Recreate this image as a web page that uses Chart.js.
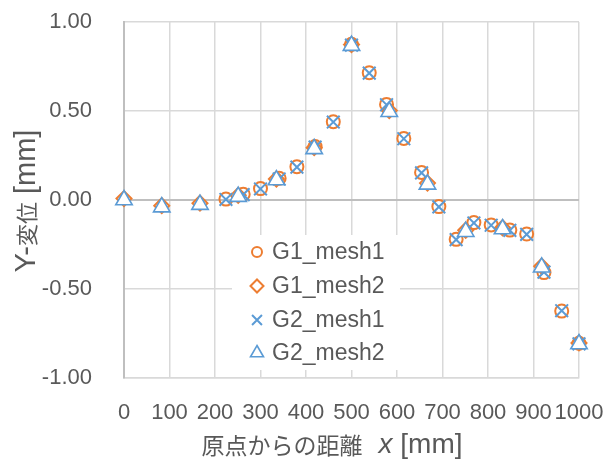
<!DOCTYPE html>
<html>
<head>
<meta charset="utf-8">
<script src="https://cdn.jsdelivr.net/npm/chart.js@4/dist/chart.umd.min.js"></script>
<style>
    html, body { margin: 0; padding: 0; background: #fff; }
    #chart { display: block; }
</style>
</head>
<body>
<canvas id="chart" width="610" height="471"></canvas>
<script>
const mesh1X = [224, 262, 300, 341, 380, 420, 460, 500, 539, 577, 615, 654, 692, 730, 769, 807, 848, 885, 923, 962, 1000];
const g1Mesh1Y = [0.005, 0.032, 0.064, 0.122, 0.187, 0.300, 0.440, 0.875, 0.715, 0.537, 0.346, 0.155, -0.037, -0.221, -0.127, -0.140, -0.169, -0.191, -0.408, -0.624, -0.805];
const g2Mesh1Y = [0.003, 0.030, 0.062, 0.118, 0.185, 0.297, 0.438, 0.870, 0.713, 0.535, 0.344, 0.152, -0.039, -0.223, -0.129, -0.142, -0.171, -0.193, -0.405, -0.622, -0.808];

const mesh2X = [0, 83, 167, 251, 335, 418, 500, 583, 667, 751, 832, 918, 1000];
const g1Mesh2Y = [0.008, -0.032, -0.018, 0.026, 0.118, 0.294, 0.873, 0.503, 0.095, -0.170, -0.156, -0.372, -0.803];
const g2Mesh2Y = [0.000, -0.040, -0.026, 0.019, 0.112, 0.287, 0.867, 0.496, 0.088, -0.178, -0.163, -0.378, -0.809];

const yTicks = [-1, -0.5, 0, 0.5, 1];
const seriesNames = ["G1_mesh1", "G1_mesh2", "G2_mesh1", "G2_mesh2"];

const ORANGE = "#ED7D31";
const BLUE = "#5B9BD5";
const TEXT = "#595959";
const GRID = "#D9D9D9";
const AXIS = "#BFBFBF";
const LATIN = "'Liberation Sans', Arial, sans-serif";
const CJK = "'Noto Sans CJK JP', sans-serif";

function toPoints(xs, ys) {
    return xs.map((x, i) => ({ x: x, y: ys[i] }));
}

const styles = [
    { pointStyle: "circle", radius: 6.5, color: ORANGE, fill: "rgba(0,0,0,0)", width: 2, order: 4, legendRadius: 5 },
    { pointStyle: "rectRot", radius: 7.5, color: ORANGE, fill: "rgba(0,0,0,0)", width: 2, order: 3, legendRadius: 6.5 },
    { pointStyle: "crossRot", radius: 9, color: BLUE, fill: "rgba(0,0,0,0)", width: 2, order: 2, legendRadius: 7 },
    { pointStyle: "triangle", radius: 9.5, color: BLUE, fill: "#ffffff", width: 1.6, order: 1, legendRadius: 7.5 }
];

const seriesData = [
    toPoints(mesh1X, g1Mesh1Y),
    toPoints(mesh2X, g1Mesh2Y),
    toPoints(mesh1X, g2Mesh1Y),
    toPoints(mesh2X, g2Mesh2Y)
];

function drawPieces(ctx, pieces, cx, cy) {
    let total = 0;
    pieces.forEach(p => {
        ctx.font = p.font;
        p.w = ctx.measureText(p.text).width;
        total += p.w + (p.gap || 0);
    });
    let x = cx - total / 2;
    pieces.forEach(p => {
        ctx.font = p.font;
        ctx.fillText(p.text, x, cy);
        x += p.w + (p.gap || 0);
    });
}

// legend box and axis titles drawn by hand, the legend sits inside the plot
const overlayPlugin = {
    id: "overlay",
    afterDatasetsDraw(chart) {
        const ctx = chart.ctx;
        ctx.save();
        ctx.fillStyle = "#ffffff";
        ctx.fillRect(232, 235, 168, 135);
        const rows = [252, 286, 320, 353];
        chart.data.datasets.forEach((ds, i) => {
            const st = styles[i];
            ctx.strokeStyle = st.color;
            ctx.fillStyle = st.fill;
            ctx.lineWidth = st.width;
            Chart.helpers.drawPoint(ctx, { pointStyle: st.pointStyle, radius: st.legendRadius, rotation: 0, borderWidth: st.width }, 257, rows[i]);
            ctx.fillStyle = TEXT;
            ctx.font = "23px " + LATIN;
            ctx.textAlign = "left";
            ctx.textBaseline = "middle";
            ctx.fillText(ds.label, 272, rows[i] + 1);
        });
        ctx.restore();
    },
    afterDraw(chart) {
        const ctx = chart.ctx;
        ctx.save();
        ctx.fillStyle = TEXT;
        ctx.textAlign = "left";
        ctx.textBaseline = "middle";
        drawPieces(ctx, [
            { text: "原点からの距離", font: "23px " + CJK, gap: 16 },
            { text: "x", font: "italic 28px " + LATIN, gap: 0 },
            { text: " [mm]", font: "28px " + LATIN }
        ], 332, 445);

        ctx.translate(27, 201);
        ctx.rotate(-Math.PI / 2);
        drawPieces(ctx, [
            { text: "Y-", font: "29px " + LATIN },
            { text: "変位", font: "22px " + CJK },
            { text: " [mm]", font: "29px " + LATIN }
        ], 0, 0);
        ctx.restore();
    }
};

function initChart() {
    const ctx = document.getElementById("chart").getContext("2d");
    new Chart(ctx, {
        type: "scatter",
        data: {
            datasets: seriesData.map((pts, i) => ({
                label: seriesNames[i],
                data: pts,
                pointStyle: styles[i].pointStyle,
                pointRadius: styles[i].radius,
                pointHoverRadius: styles[i].radius,
                borderColor: styles[i].color,
                backgroundColor: styles[i].fill,
                borderWidth: styles[i].width,
                order: styles[i].order,
                showLine: false,
                clip: false
            }))
        },
        options: {
            responsive: false,
            animation: false,
            devicePixelRatio: 1,
            layout: { padding: { left: 0, right: 31, top: 22, bottom: 0 } },
            plugins: {
                legend: { display: false },
                tooltip: { enabled: false }
            },
            scales: {
                x: {
                    type: "linear",
                    min: 0,
                    max: 1000,
                    afterFit: scale => {
                        scale.height = 93;
                        scale.paddingLeft = 0;
                        scale.paddingRight = 0;
                    },
                    ticks: {
                        stepSize: 100,
                        autoSkip: false,
                        maxRotation: 0,
                        minRotation: 0,
                        padding: 22,
                        color: TEXT,
                        font: { family: LATIN, size: 22 },
                        callback: v => String(v)
                    },
                    grid: {
                        drawTicks: false,
                        lineWidth: 1.5,
                        color: c => (c.tick && c.tick.value === 0 ? AXIS : GRID)
                    },
                    border: { display: true, color: GRID, width: 1.5 }
                },
                y: {
                    min: -1,
                    max: 1,
                    afterFit: scale => {
                        scale.width = 124;
                        scale.paddingTop = 0;
                        scale.paddingBottom = 0;
                    },
                    afterBuildTicks: scale => { scale.ticks = yTicks.map(v => ({ value: v })); },
                    ticks: {
                        padding: 32,
                        color: TEXT,
                        font: { family: LATIN, size: 22 },
                        callback: v => v.toFixed(2)
                    },
                    grid: {
                        drawTicks: false,
                        lineWidth: c => (c.tick && c.tick.value === 0 ? 2 : 1.5),
                        color: c => (c.tick && c.tick.value === 0 ? AXIS : GRID)
                    },
                    border: { display: true, color: AXIS, width: 2 }
                }
            }
        },
        plugins: [overlayPlugin]
    });
}

document.addEventListener("DOMContentLoaded", initChart);
</script>
</body>
</html>
